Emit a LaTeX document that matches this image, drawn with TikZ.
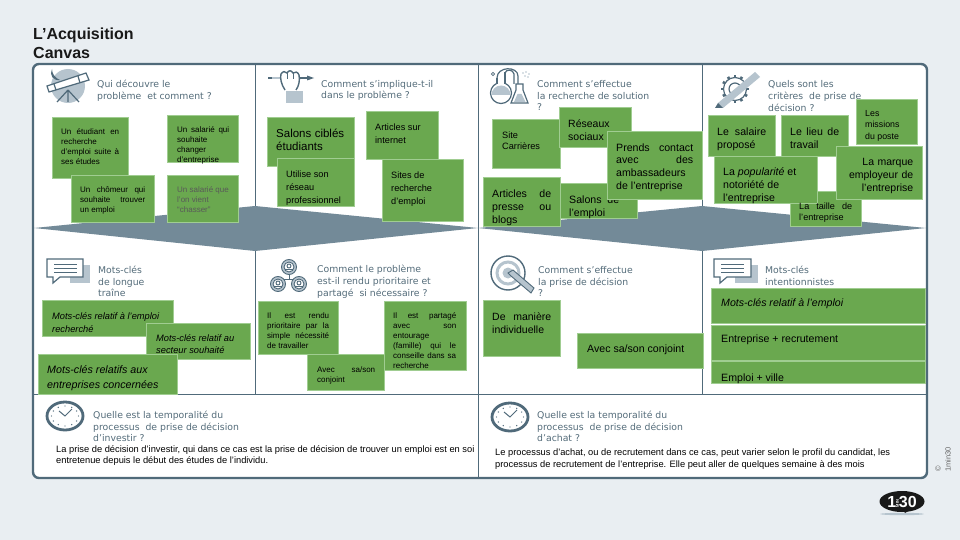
\documentclass[tikz,border=0pt]{standalone}
\usepackage{fontspec}
\setmainfont{Liberation Sans}
\newfontfamily\headfont{DejaVu Sans}
\usepackage{xcolor}
\definecolor{pagegrey}{RGB}{233, 238, 242}
\definecolor{framegrey}{RGB}{80, 106, 122}
\definecolor{bandgrey}{RGB}{115, 138, 152}
\definecolor{icongrey}{RGB}{182, 196, 206}
\definecolor{notegreen}{RGB}{106, 168, 79}
\definecolor{noteedge}{RGB}{160, 205, 145}
\definecolor{headgrey}{RGB}{84, 108, 122}

\tikzset{
  notebox/.style={fill=notegreen, draw=noteedge, line width=0.4pt},
  notetext/.style={anchor=north west, inner sep=0pt, yshift=-1.2pt, align=justify, text=black,
    execute at begin node={\hyphenpenalty=10000\tolerance=9999\emergencystretch=20pt}},
  headtext/.style={anchor=west, inner sep=0pt, align=left, text=headgrey,
    font=\headfont\fontsize{9.3}{11.8}\selectfont},
  bodytext/.style={anchor=north west, inner sep=0pt, align=left, text=black,
    font=\fontsize{9.3}{11.5}\selectfont},
  iconline/.style={draw=framegrey, line width=1.2pt},
}
\newcommand{\fs}[2]{\fontsize{#1}{#2}\selectfont}

\begin{document}
\begin{tikzpicture}[x=1pt, y=-1pt]
  \useasboundingbox (0,0) rectangle (960,540);
  \fill[pagegrey] (0,0) rectangle (960,540);

  % title
  \node[anchor=north west, inner sep=0pt, align=left, text=black!90,
    font=\bfseries\fs{16}{19}] (title) at (33,27.5) {L’Acquisition\\Canvas};

  % frame
  \filldraw[fill=white, draw=framegrey, line width=2.4pt, rounded corners=6pt] (33,64) rectangle (927,478);
  \draw[framegrey, line width=0.7pt] (33,394) -- (927,394);
  \foreach \xcol in {255,478,702} \draw[framegrey, line width=0.7pt] (\xcol,64) -- (\xcol,394);
  \draw[framegrey, line width=0.7pt] (478,394) -- (478,478);
  \fill[bandgrey] (34,228) -- (255,206) -- (478,228) -- (255,251) -- cycle;
  \fill[bandgrey] (478,228) -- (702,206) -- (926,228) -- (702,251) -- cycle;

  % telescope
  \fill[icongrey] (68,86) circle (17);
  \fill[framegrey] (60,80) .. controls (53,81) and (49,75) .. (52,69) .. controls (52,74) and (55,78) .. (60,80);
  \draw[iconline] (68,90) -- (57,102) (68,90) -- (79,102) (68,90) -- (68,102);
  \draw[iconline, fill=white] (47,86) -- (86,73) -- (89,80) -- (49,92) -- cycle;
  \draw[iconline] (54,84) -- (56,90) (78,76) -- (80,83);

  % fist and pencil
  \fill[icongrey] (286,91) rectangle (303,103);
  \draw[framegrey, line width=1.4pt] (268,78) -- (272,78) (300,78) -- (307,78);
  \draw[icongrey, line width=1.4pt] (272,78) -- (280,78);
  \fill[framegrey] (307,75.5) -- (314,78) -- (307,80.5) -- cycle;
  \draw[iconline, fill=white, line width=1.4pt] (285,90) .. controls (281,84) and (280,78) .. (281,74)
    .. controls (283,71) and (285,71) .. (287,73) .. controls (289,70) and (291,70) .. (293,73)
    .. controls (295,71) and (298,72) .. (299,75) .. controls (300,80) and (299,86) .. (296,90);
  \draw[framegrey, line width=0.8pt] (287,73) -- (287,79) (293,73) -- (293,79);

  % flasks
  \fill[white] (497,77) rectangle (505,86);
  \draw[iconline, fill=white] (501,93) circle (10.5);
  \fill[white] (497.6,80) rectangle (504.4,85);
  \draw[iconline] (497,78) -- (497,84) (505,72) -- (505,84);
  \fill[icongrey] (491.5,95) -- (510.5,95) arc (0:-180:9.5) -- cycle;
  \draw[iconline] (505,73) .. controls (506,69) and (513,69) .. (514,74) -- (514,84);
  \draw[iconline] (497,78) .. controls (497,66) and (518,66) .. (518,76) -- (518,84);
  \draw[iconline, fill=white] (516,84) -- (523,84) -- (523,90) -- (528,103) -- (511,103) -- (516,90) -- cycle;
  \fill[icongrey] (514,102) -- (517.5,94) -- (521.5,94) -- (525.5,102) -- cycle;
  \draw[framegrey, line width=0.8pt] (493,74) circle (1.6);
  \foreach \xdot/\ydot in {523/73, 526/72, 529/74, 525/76, 528/77} \fill[icongrey] (\xdot,\ydot) circle (0.8);

  % gear and pencil
  \foreach \ang in {0,30,...,330}
    \draw[framegrey, line width=2.6pt] ({735+11*cos(\ang)},{89+11*sin(\ang)}) -- ({735+14*cos(\ang)},{89+14*sin(\ang)});
  \draw[iconline, fill=white] (735,89) circle (11.5);
  \draw[iconline] (735,89) circle (6);
  \fill[icongrey] (718,103) -- (755,72) -- (760,77) -- (723,108) -- cycle;
  \fill[framegrey] (715,108) -- (718,103) -- (723,108) -- cycle;

  % keywords bubble
  \fill[icongrey] (70,265) rectangle (90,283);
  \draw[iconline, fill=white] (47,259) -- (83,259) -- (83,277) -- (60,277) -- (53,283) -- (53,277) -- (47,277) -- cycle;
  \foreach \yline in {264,268,272} \draw[framegrey, line width=0.9pt] (54,\yline) -- (77,\yline);

  % people
  \draw[framegrey, line width=1pt] (289,274) -- (289,279) (284,279) -- (294,279);
  \foreach \xp/\yp in {289/267, 278/284, 299/284} {
    \filldraw[fill=icongrey, draw=framegrey, line width=0.9pt] (\xp,\yp) circle (7.5);
    \filldraw[fill=white, draw=framegrey, line width=0.9pt] (\xp,\yp) circle (5);
    \draw[framegrey, line width=0.9pt] (\xp,\yp-1) circle (2);
    \draw[framegrey, line width=0.9pt] (\xp-3.5,\yp+4) -- (\xp-3.5,\yp+2.5) -- (\xp+3.5,\yp+2.5) -- (\xp+3.5,\yp+4);
  }

  % target and pencil
  \draw[framegrey, line width=1.4pt] (508,273) circle (17);
  \draw[icongrey, line width=3pt] (508,273) circle (11);
  \fill[icongrey] (508,273) circle (5.5);
  \draw[framegrey, fill=icongrey, line width=0.9pt] (508,273) -- (513,270) -- (534,288) -- (531,293) -- (511,276) -- cycle;

  % keywords bubble, second
  \fill[icongrey] (735,265) rectangle (758,283);
  \draw[iconline, fill=white] (714,259) -- (751,259) -- (751,277) -- (727,277) -- (720,283) -- (720,277) -- (714,277) -- cycle;
  \foreach \yline in {264,268,272} \draw[framegrey, line width=0.9pt] (721,\yline) -- (744,\yline);

  % clocks
  \foreach \xc/\yc in {65/416, 510/417} {
    \draw[framegrey, fill=white, line width=2.8pt] (\xc,\yc) ellipse (18 and 14);
    \foreach \ang in {30,60,...,360}
      \fill[framegrey] ({\xc+13.5*cos(\ang)},{\yc+10*sin(\ang)}) circle (0.7);
    \draw[framegrey, line width=1pt] (\xc-6,\yc-5) -- (\xc,\yc) -- (\xc+7,\yc-7);
  }

  % headings
  \node[headtext] (qui) at (97,90.5) {Qui découvre le\\problème\ \ et comment ?};
  \node[headtext] (implique) at (321,90.5) {Comment s’implique-t-il\\dans le problème ?};
  \node[headtext] (effectue) at (537,95.5) {Comment s’effectue\\la recherche de solution\\?};
  \node[headtext] (criteres) at (768,96) {Quels sont les\\critères\ \ de prise de\\décision ?};
  \node[headtext] (longue) at (98,281.5) {Mots-clés\\de longue\\traîne};
  \node[headtext] (prioritaire) at (317,282) {Comment le problème\\est-il rendu prioritaire et\\partagé\ \ si nécessaire ?};
  \node[headtext] (decision) at (538,281.5) {Comment s’effectue\\la prise de décision\\?};
  \node[headtext] (intention) at (765,276) {Mots-clés\\intentionnistes};
  \node[headtext] (investir) at (93,426.5) {Quelle est la temporalité du\\processus\ \ de prise de décision\\d’investir ?};
  \node[headtext] (achat) at (537,426.5) {Quelle est la temporalité du\\processus\ \ de prise de décision\\d’achat ?};

  % first column
  \draw[notebox] (52,117) rectangle (128,178);
  \node[notetext, text width=58pt, font=\fs{8}{10}] (etudiant) at (61,127.5) {Un étudiant en\linebreak recherche\newline d’emploi suite à\linebreak ses études};
  \draw[notebox] (167,115) rectangle (238,162);
  \node[notetext, text width=52pt, font=\fs{8}{10}] (salarie) at (177,125.5) {Un salarié qui\linebreak souhaite\newline changer\newline d’entreprise};
  \draw[notebox] (71,175) rectangle (154,222);
  \node[notetext, text width=65pt, font=\fs{8}{10}] (chomeur) at (80,185.5) {Un chômeur qui souhaite trouver un emploi};
  \draw[notebox] (167,175) rectangle (238,222);
  \node[notetext, text width=52pt, text=black!65, font=\fs{8}{10}] (chasser) at (177,185.5) {Un salarié que\newline l’on vient\newline “chasser”};

  % second column
  \draw[notebox] (267,117) rectangle (354,166);
  \node[notetext, text width=68pt, font=\fs{11.5}{13}] (cibles) at (276,128) {Salons ciblés\linebreak étudiants};
  \draw[notebox] (366,111) rectangle (438,159);
  \node[notetext, text width=55pt, font=\fs{9.2}{13}] (articles) at (375,122) {Articles sur\newline internet};
  \draw[notebox] (277,158) rectangle (354,206);
  \node[notetext, text width=62pt, font=\fs{9.2}{13}] (reseau) at (286,169) {Utilise son\newline réseau\newline professionnel};
  \draw[notebox] (382,159) rectangle (463,221);
  \node[notetext, text width=55pt, font=\fs{9.2}{13}] (sites) at (391,170) {Sites de\newline recherche\newline d’emploi};

  % third column
  \draw[notebox] (492,119) rectangle (560,168);
  \node[notetext, text width=45pt, font=\fs{9.2}{11}] (carrieres) at (502,130) {Site Carrières};
  \draw[notebox] (559,107) rectangle (631,147);
  \node[notetext, text width=48pt, font=\fs{10.5}{13}] (sociaux) at (568,118) {Réseaux sociaux};
  \draw[notebox] (483,177) rectangle (560,226);
  \node[notetext, text width=59pt, font=\fs{10.6}{13}] (presse) at (492,188) {Articles de presse ou blogs};
  \draw[notebox] (560,183) rectangle (637,218);
  \node[notetext, text width=50pt, font=\fs{10.6}{13}] (emploi) at (569,194) {Salons de l’emploi};
  \draw[notebox] (607,131) rectangle (702,199);
  \node[notetext, text width=77pt, font=\fs{10.6}{12.8}] (contact) at (616,142) {Prends contact avec des ambassadeurs de l’entreprise};

  % fourth column
  \draw[notebox] (856,99) rectangle (917,144);
  \node[notetext, text width=42pt, font=\fs{8.8}{11.5}] (missions) at (865,109) {Les missions du poste};
  \draw[notebox] (708,115) rectangle (775,156);
  \node[notetext, text width=49pt, font=\fs{10.6}{13}] (propose) at (717,126) {Le salaire proposé};
  \draw[notebox] (781,115) rectangle (848,156);
  \node[notetext, text width=49pt, font=\fs{10.6}{13}] (lieu) at (790,126) {Le lieu de travail};
  \draw[notebox] (790,191) rectangle (861,226);
  \draw[notebox] (714,156) rectangle (817,203);
  \node[notetext, text width=76pt, font=\fs{10.6}{13}] (populaire) at (723,166) {La \emph{popularité} et\newline notoriété de\newline l’entreprise};
  \draw[notebox] (836,146) rectangle (922,199);
  \node[notetext, text width=76pt, align=right, font=\fs{10.5}{13}] (marque) at (837,157) {La marque\\employeur de\\l’entreprise};
  \node[notetext, text width=53pt, font=\fs{9.1}{11}] (taille) at (799,202) {La taille de l’entreprise};

  % lower row, first column
  \draw[notebox] (42,300) rectangle (173,336);
  \node[notetext, text width=112pt, font=\itshape\fs{9.3}{13}] (recherche) at (52,311) {Mots-clés relatif à l’emploi\newline recherché};
  \draw[notebox] (146,323) rectangle (250,359);
  \node[notetext, text width=84pt, font=\itshape\fs{9.3}{12}] (secteur) at (156,333) {Mots-clés relatif au\newline secteur souhaité};
  \draw[notebox] (38,354) rectangle (177,394);
  \node[notetext, text width=120pt, font=\itshape\fs{10.7}{15}] (concernees) at (47,364) {Mots-clés relatifs aux\newline entreprises concernées};

  % lower row, second column
  \draw[notebox] (258,301) rectangle (338,354);
  \node[notetext, text width=62pt, font=\fs{8}{10}] (necessite) at (267,311) {Il est rendu\linebreak prioritaire par la\linebreak simple nécessité\linebreak de travailler};
  \draw[notebox] (384,301) rectangle (466,370);
  \node[notetext, text width=63pt, font=\fs{8}{10}] (entourage) at (393,311) {Il est partagé\linebreak avec son\linebreak entourage\newline (famille) qui le\linebreak conseille dans sa\linebreak recherche};
  \draw[notebox] (307,354) rectangle (384,390);
  \node[notetext, text width=58pt, font=\fs{8}{10}] (avec) at (317,365) {Avec sa/son\linebreak conjoint};

  % lower row, third column
  \draw[notebox] (483,300) rectangle (560,356);
  \node[notetext, text width=59pt, font=\fs{10.5}{13}] (individuelle) at (492,311) {De manière individuelle};
  \draw[notebox] (577,333) rectangle (703,368);
  \node[notetext, text width=110pt, font=\fs{10.6}{13}] (conjoint) at (587,343) {Avec sa/son conjoint};

  % lower row, fourth column
  \draw[notebox] (711,288) rectangle (925,323);
  \node[notetext, text width=190pt, font=\itshape\fs{10.6}{13}] (relatif) at (721,297) {Mots-clés relatif à l’emploi};
  \draw[notebox] (711,325) rectangle (925,360);
  \node[notetext, text width=190pt, font=\fs{10.6}{13}] (recrutement) at (721,333) {Entreprise + recrutement};
  \draw[notebox] (711,361) rectangle (925,383);
  \node[notetext, text width=190pt, font=\fs{10.6}{13}] (ville) at (721,372) {Emploi + ville};

  % timing texts
  \node[bodytext] (soi) at (56,445) {La prise de décision d’investir, qui dans ce cas est la prise de décision de trouver un emploi est en soi\\entretenue depuis le début des études de l’individu.};
  \node[bodytext] (mois) at (495,449) {Le processus d’achat, ou de recrutement dans ce cas, peut varier selon le profil du candidat, les\\processus de recrutement de l’entreprise. Elle peut aller de quelques semaine à des mois};

  % mark and logo
  \node[rotate=90, inner sep=0pt, text=black!60, font=\fs{7.5}{9}] (copyr) at (938,469) {©};
  \node[rotate=90, inner sep=0pt, anchor=west, text=black!60, font=\fs{7.5}{9}] (minute) at (948,472) {1min30};
  \fill[icongrey] (902,514) ellipse (22 and 1.2);
  \fill[black!90] (902,501.5) ellipse (22.5 and 10.5);
  \fill[black!90] (903,510) -- (910,510) -- (905,513) -- cycle;
  \node[inner sep=0pt, text=white, font=\bfseries\fs{16}{16}] (logo) at (902,501.5) {1\rotatebox{90}{\fs{4}{4}MIN}30};
\end{tikzpicture}
\end{document}
